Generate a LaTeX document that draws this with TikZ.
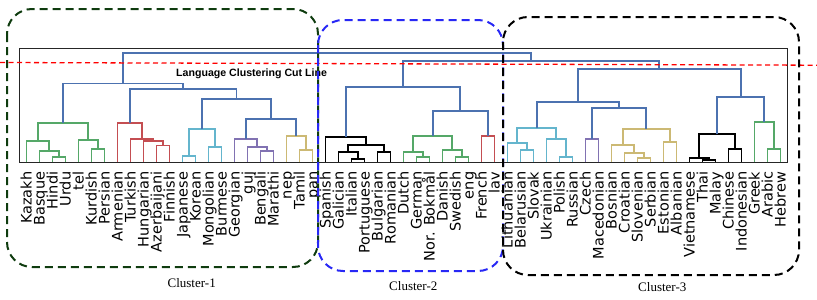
\documentclass[tikz,border=0pt]{standalone}
\usepackage{fontspec}
\setmainfont{Liberation Serif}
\newfontfamily\leaffont{DejaVu Sans}
\newfontfamily\cutfont{Liberation Sans}

\definecolor{dblue}{HTML}{4C72B0}
\definecolor{dgreen}{HTML}{55A868}
\definecolor{dred}{HTML}{C44E52}
\definecolor{dpurple}{HTML}{8172B2}
\definecolor{dtan}{HTML}{CCB974}
\definecolor{dcyan}{HTML}{64B5CD}
\definecolor{clusterone}{RGB}{15,60,15}
\definecolor{clustertwo}{RGB}{40,40,245}

\tikzset{
    link/.style={line width=1.9pt, line join=miter},
    frame/.style={draw=black!85, line width=1pt},
    leaf/.style={rotate=90, anchor=east, inner sep=0pt, text height=10.5pt, text depth=0.5pt,
        font=\leaffont\fontsize{14.5}{16}\selectfont},
    cutline/.style={red, line width=1.3pt, dash pattern=on 5pt off 3.5pt},
    clusterbox/.style={line width=2pt, dash pattern=on 8pt off 5pt, rounded corners=25pt},
    clusterlabel/.style={inner sep=0pt, font=\fontsize{13}{15}\selectfont},
}

\begin{document}
\begin{tikzpicture}[x=1pt, y=-1pt]
    \useasboundingbox (0,0) rectangle (817,300);

    \draw[frame] (19.3,48.3) rectangle (787,162);

    % leaves and their labels
    \foreach \lang [count=\i from 0] in {Kazakh,Basque,Hindi,Urdu,tel,Kurdish,Persian,
        Armenian,Turkish,Hungarian,Azerbaijani,Finnish,Japanese,Korean,Mongolian,Burmese,
        Georgian,guj,Bengali,Marathi,nep,Tamil,pan,Spanish,Galician,Italian,Portuguese,
        Bulgarian,Romanian,Dutch,German,Nor. Bokmål,Danish,Swedish,eng,French,lav,
        Lithuanian,Belarusian,Slovak,Ukrainian,Polish,Russian,Czech,Macedonian,Bosnian,
        Croatian,Slovenian,Serbian,Estonian,Albanian,Vietnamese,Thai,Malay,Chinese,
        Indonesian,Greek,Arabic,Hebrew} {
        \coordinate (t\i) at ({26.5+13*\i},162);
        \node[leaf] (l\i) at ({26.5+13*\i},171.5) {\lang};
    }

    % merges: name/left/right/x/height/colour
    \foreach \n/\l/\r/\x/\h/\c in {
        g1/t2/t3/59/157/dgreen, g2/t1/g1/49.25/151/dgreen, g3/t0/g2/37.88/141/dgreen,
        g4/t5/t6/98/149/dgreen, g5/t4/g4/88.25/140/dgreen, g6/g3/g5/63.06/123/dgreen,
        r1/t10/t11/163/145.5/dred, r2/t9/r1/153.25/141/dred, r3/t8/r2/141.88/139/dred,
        r4/t7/r3/129.69/123.3/dred,
        c1/t12/t13/189/156/dcyan, c2/t14/t15/215/147/dcyan, c3/c1/c2/202/129.3/dcyan,
        p1/t18/t19/267/151/dpurple, p2/t17/p1/257.25/147/dpurple, p3/t16/p2/245.88/139/dpurple,
        y1/t21/t22/306/150/dtan, y2/t20/y1/296.25/136/dtan,
        b1/p3/y2/271.06/119.3/dblue, b2/c3/b1/236.53/99/dblue, b3/r4/b2/183.11/89.3/dblue,
        b4/g6/b3/123.09/83.5/dblue,
        k1/t25/t26/358/159/black, k2/t24/k1/348.25/152.3/black, k3/t27/t28/384/152.3/black,
        k4/k2/k3/366.13/145/black, k5/t23/k4/345.81/136.7/black,
        g7/t30/t31/423/156.7/dgreen, g8/t29/g7/413.25/152.3/dgreen, g9/t33/t34/462/156.7/dgreen,
        g10/t32/g9/452.25/150/dgreen, g11/g8/g10/432.75/136/dgreen,
        r5/t35/t36/488/135.7/dred,
        b5/g11/r5/460.38/111/dblue, b6/k5/b5/403.09/86.7/dblue,
        c4/t38/t39/527/150/dcyan, c5/t37/c4/517.25/142.7/dcyan, c6/t41/t42/566/156.7/dcyan,
        c7/t40/c6/556.25/139.3/dcyan, c8/c5/c7/536.75/128.3/dcyan,
        p4/t43/t44/592/139/dpurple,
        y3/t47/t48/644/158.3/dtan, y4/t46/y3/634.25/153.3/dtan, y5/t45/y4/622.88/145/dtan,
        y6/t49/t50/670/141.7/dtan, y7/y5/y6/646.44/129.3/dtan,
        b7/p4/y7/619.22/107.7/dblue, b8/c8/b7/577.98/102/dblue,
        k6/t52/t53/709/160.3/black, k7/t51/k6/699.25/158.3/black, k8/t54/t55/735/149.3/black,
        k9/k7/k8/717.13/134.3/black,
        g12/t57/t58/774/149.3/dgreen, g13/t56/g12/764.25/122.3/dgreen,
        b9/k9/g13/740.69/97.3/dblue, b10/b8/b9/659.33/69.3/dblue,
        b11/b6/b10/531.21/60.7/dblue, b12/b4/b11/327.15/53.3/dblue} {
        \coordinate (\n) at (\x,\h);
        \draw[link, color=\c] (\l) |- (\n) -| (\r);
    }

    % cut line
    \draw[cutline] (0,62.5) -- (817,65.2);
    \node[anchor=base west, inner sep=0pt, font=\cutfont\bfseries\fontsize{10.6}{12}\selectfont]
        (cut) at (176,76) {Language Clustering Cut Line};

    % clusters
    \draw[clusterbox, clusterone] (7,9) rectangle (318,267);
    \draw[clusterbox, clustertwo] (318,20) rectangle (503,271);
    \draw[clusterbox, black] (503,17) rectangle (799,275);

    \node[clusterlabel] (cl1) at (191.7,283.3) {Cluster-1};
    \node[clusterlabel] (cl2) at (413.3,286) {Cluster-2};
    \node[clusterlabel] (cl3) at (662.3,286.7) {Cluster-3};
\end{tikzpicture}
\end{document}
